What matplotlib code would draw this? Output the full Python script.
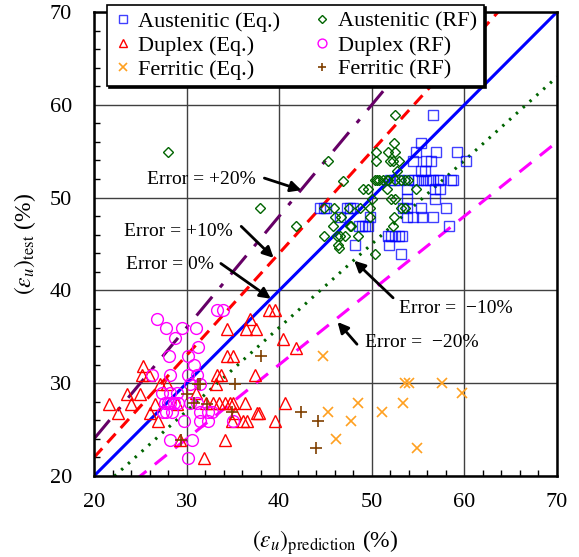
import numpy as np
import matplotlib
matplotlib.use("Agg")
import matplotlib.pyplot as plt

plt.rcParams['font.family'] = ['Liberation Serif', 'DejaVu Serif']
plt.rcParams['mathtext.fontset'] = 'stix'

# ---------------- data ----------------
aus_eq_x = [56.6, 55.3, 54.8, 56.9, 59.2, 54.5, 55.9, 56.4, 60.2, 55.3, 55.7,
            52.0, 52.4, 52.9, 53.9, 54.6, 55.0, 55.4, 55.9, 56.3, 56.6, 57.1, 57.4, 58.5, 58.8,
            53.8, 56.8, 57.4, 53.8, 56.8,
            44.4, 44.8, 45.1, 47.3, 47.6, 48.0, 53.4, 53.8, 55.3, 58.0,
            46.6, 49.8, 53.8, 54.4, 55.4, 56.6,
            48.6, 48.9, 49.3, 49.6, 58.3,
            51.8, 52.1, 52.5, 52.9, 53.3,
            48.2, 51.9, 53.1]
aus_eq_y = [58.9, 55.9, 54.9, 54.9, 54.9, 53.9, 53.9, 53.9, 53.9, 52.9, 52.9,
            51.9, 51.9, 51.9, 51.9, 51.9, 51.9, 51.9, 51.9, 51.9, 51.9, 51.9, 51.9, 51.9, 51.9,
            50.9, 50.9, 50.9, 49.9, 49.9,
            48.9, 48.9, 48.9, 48.9, 48.9, 48.9, 48.9, 48.9, 48.9, 48.9,
            47.9, 47.9, 47.9, 47.9, 47.9, 47.9,
            46.9, 46.9, 46.9, 46.9, 46.9,
            45.9, 45.9, 45.9, 45.9, 45.9,
            44.9, 44.9, 43.9]

aus_rf_x = [28.0, 37.9, 41.8, 44.8, 45.3, 44.8, 45.8, 45.9, 46.0, 46.2, 46.3, 46.5,
            46.6, 46.7, 46.9, 47.1, 47.5, 47.6, 47.8, 48.5, 48.7, 49.1, 49.6, 49.8,
            49.8, 50.0, 50.3, 50.3, 50.6, 50.8, 50.4, 50.5, 51.2, 51.6, 51.6, 51.7,
            51.8, 52.0, 52.1, 52.3, 52.5, 52.5, 52.5, 52.4, 52.5, 52.7, 52.9, 52.3,
            52.4, 53.2, 53.6, 53.2, 53.6, 53.9, 54.8]
aus_rf_y = [54.9, 48.9, 46.9, 45.9, 53.9, 48.9, 46.9, 48.9, 47.9, 45.9, 44.9, 44.6,
            45.9, 47.9, 51.8, 45.9, 48.9, 46.9, 46.9, 45.9, 48.9, 50.9, 50.9, 48.9,
            47.9, 49.9, 43.9, 51.9, 51.9, 51.9, 53.9, 54.9, 51.9, 51.9, 50.9, 54.9,
            51.9, 53.9, 49.9, 53.9, 49.9, 51.9, 54.9, 55.9, 58.9, 52.9, 53.9, 46.9,
            47.9, 48.9, 48.9, 51.9, 51.9, 51.9, 50.9]

dup_eq_x = [21.6, 22.6, 23.6, 24.0, 25.0, 25.2, 25.3, 25.9, 26.0, 26.6, 26.9, 27.1,
            27.9, 29.0, 29.3, 31.0, 31.9, 32.1, 32.8, 33.2, 33.3, 33.5, 33.7, 34.1,
            34.2, 34.4, 34.4, 34.7, 34.9, 35.0, 35.0, 35.2, 36.1, 36.3, 36.4, 36.5,
            36.8, 37.4, 37.5, 37.6, 37.8, 38.9, 39.5, 39.5, 40.4, 40.6, 41.8]
dup_eq_y = [27.8, 26.8, 28.8, 27.8, 28.8, 30.9, 31.9, 30.9, 26.8, 27.8, 25.9, 29.9,
            29.9, 27.8, 23.9, 28.9, 21.9, 27.9, 27.9, 29.9, 30.9, 27.9, 30.9, 27.9,
            23.9, 32.9, 35.8, 27.9, 25.9, 27.9, 32.9, 26.8, 25.9, 27.9, 35.8, 25.9,
            36.9, 30.9, 35.8, 26.8, 26.8, 37.9, 37.9, 25.9, 34.8, 27.9, 33.8]

dup_rf_x = [26.8, 27.8, 29.5, 31.0, 28.7, 31.2, 28.1, 30.2, 30.8, 26.3, 28.2, 30.2,
            31.1, 30.4, 31.4, 27.3, 28.2, 29.0, 27.7, 28.0, 28.2, 28.6, 29.1, 30.4,
            31.1, 27.5, 27.8, 28.4, 31.4, 32.3, 32.7, 29.7, 31.4, 32.3, 35.0, 28.2,
            30.6, 30.2, 33.3, 33.9]
dup_rf_y = [36.9, 35.9, 35.9, 35.9, 34.9, 33.9, 32.9, 32.9, 32.0, 30.9, 30.9, 30.9,
            30.9, 29.9, 29.9, 28.9, 28.9, 28.9, 27.9, 27.9, 27.9, 27.9, 27.9, 27.9,
            27.9, 26.9, 26.9, 26.9, 26.9, 26.9, 26.9, 25.9, 25.9, 25.9, 25.9, 23.9,
            23.9, 21.9, 37.9, 37.9]

fer_eq_x = [44.7, 53.6, 54.0, 57.6, 59.7, 48.5, 53.4, 45.3, 51.1, 47.8, 46.1, 54.9]
fer_eq_y = [32.9, 30.0, 30.0, 30.0, 28.9, 27.9, 27.9, 26.9, 26.9, 25.9, 24.0, 23.0]

fer_rf_x = [29.4, 30.0, 30.8, 31.2, 31.4, 32.2, 34.9, 35.2, 38.0, 42.4, 44.2, 44.0]
fer_rf_y = [23.9, 28.8, 27.9, 29.9, 29.9, 27.8, 26.9, 29.9, 32.9, 26.9, 25.9, 23.0]

error_factors = [1.2, 1.1, 1.0, 0.9, 0.8]
error_labels = ['Error = +20%', 'Error = +10%', 'Error = 0%',
                'Error =  \u221210%', 'Error =  \u221220%']

# ---------------- figure ----------------
fig = plt.figure(figsize=(5.79, 5.57), dpi=100)
ax = fig.add_axes([94/579, 1-476/557, 463/579, 464/557])

ax.set_xlim(20, 70)
ax.set_ylim(20, 70)
ax.set_xticks(np.arange(20, 71, 10))
ax.set_yticks(np.arange(20, 71, 10))
ax.set_xticks(np.arange(20, 71, 2), minor=True)
ax.set_yticks(np.arange(20, 71, 2), minor=True)
ax.grid(True, which='major', color='#404040', lw=1.0, zorder=0)
ax.tick_params(which='both', direction='in', top=False, right=False, labelsize=16)
ax.tick_params(axis='y', which='major', length=0, pad=16)
ax.tick_params(axis='x', which='major', length=0, pad=12)
ax.tick_params(which='minor', length=4, width=1.0)
for s in ax.spines.values():
    s.set_linewidth(1.8)
    s.set_zorder(6)

# error lines
xl = np.array([20.0, 70.0])
line_styles = [
    dict(color='#660066', lw=2.2, dashes=(8, 4, 1.5, 4)),
    dict(color='#ff0000', lw=2.2, dashes=(4, 2.5)),
    dict(color='#0000ff', lw=2.2, ls='-'),
    dict(color='#006400', lw=2.2, dashes=(0.8, 2.2)),
    dict(color='#ff00ff', lw=2.2, dashes=(5, 3.5)),
]
for f, st in zip(error_factors, line_styles):
    ax.plot(xl, f * xl, zorder=2, **st)

# scatter series
ms_kw = dict(ls='none', mfc='none', zorder=3)
ax.plot(aus_eq_x, aus_eq_y, marker='s', ms=7, mec='#0000ff', mew=1.0, alpha=0.75,
        label='Austenitic (Eq.)', **ms_kw)
ax.plot(aus_rf_x, aus_rf_y, marker='D', ms=5.5, mec='#006400', mew=1.0,
        label='Austenitic (RF)', **ms_kw)
ax.plot(dup_eq_x, dup_eq_y, marker='^', ms=8.5, mec='#ff0000', mew=1.0,
        label='Duplex (Eq.)', **ms_kw)
ax.plot(dup_rf_x, dup_rf_y, marker='o', ms=8.5, mec='#ff00ff', mew=1.0,
        label='Duplex (RF)', **ms_kw)
ax.plot(fer_eq_x, fer_eq_y, marker='x', ms=7, mec='#ffa020', mew=1.2,
        label='Ferritic (Eq.)', **ms_kw)
ax.plot(fer_rf_x, fer_rf_y, marker='+', ms=8, mec='#7f3f00', mew=1.2,
        label='Ferritic (RF)', **ms_kw)

h, l = ax.get_legend_handles_labels()
order = [0, 2, 4, 1, 3, 5]
leg = ax.legend([h[i] for i in order], [l[i] for i in order], ncol=2,
                loc='upper left', bbox_to_anchor=(0.028, 1.016), borderaxespad=0,
                fontsize=16, markerscale=0.75, handlelength=0.8, handletextpad=0.3,
                columnspacing=1.5, labelspacing=0.15, borderpad=0.3,
                fancybox=False, framealpha=1, edgecolor='k',
                shadow={'color': 'k', 'alpha': 1.0, 'ox': 1.5, 'oy': -1.5})
leg.get_frame().set_linewidth(1.2)
leg.set_zorder(10)

# annotations
text_pos = [(31.6, 51.9), (29.1, 46.3), (28.2, 42.8), (59.1, 38.1), (55.4, 34.4)]
arrow_tail = [(38.4, 52.1), (35.9, 46.9), (33.7, 42.9), (52.3, 39.2), (48.4, 34.2)]
arrow_head = [(42.4, 50.8), (39.4, 43.5), (39.1, 39.1), (48.1, 43.2), (46.3, 36.6)]
for t, tp, ta, hd in zip(error_labels, text_pos, arrow_tail, arrow_head):
    ax.text(tp[0], tp[1], t, fontsize=14, ha='center', va='center', zorder=7)
    ax.annotate('', xy=hd, xytext=ta,
                arrowprops=dict(arrowstyle='-|>', color='k', lw=2.0,
                                mutation_scale=16, shrinkA=0, shrinkB=0),
                zorder=7)

ax.set_xlabel(r'$(\varepsilon_u)_{\mathrm{prediction}}$ (%)', fontsize=17, labelpad=12)
ax.set_ylabel(r'$(\varepsilon_u)_{\mathrm{test}}$ (%)', fontsize=17, labelpad=8)

fig.savefig('out.png', dpi=100)
